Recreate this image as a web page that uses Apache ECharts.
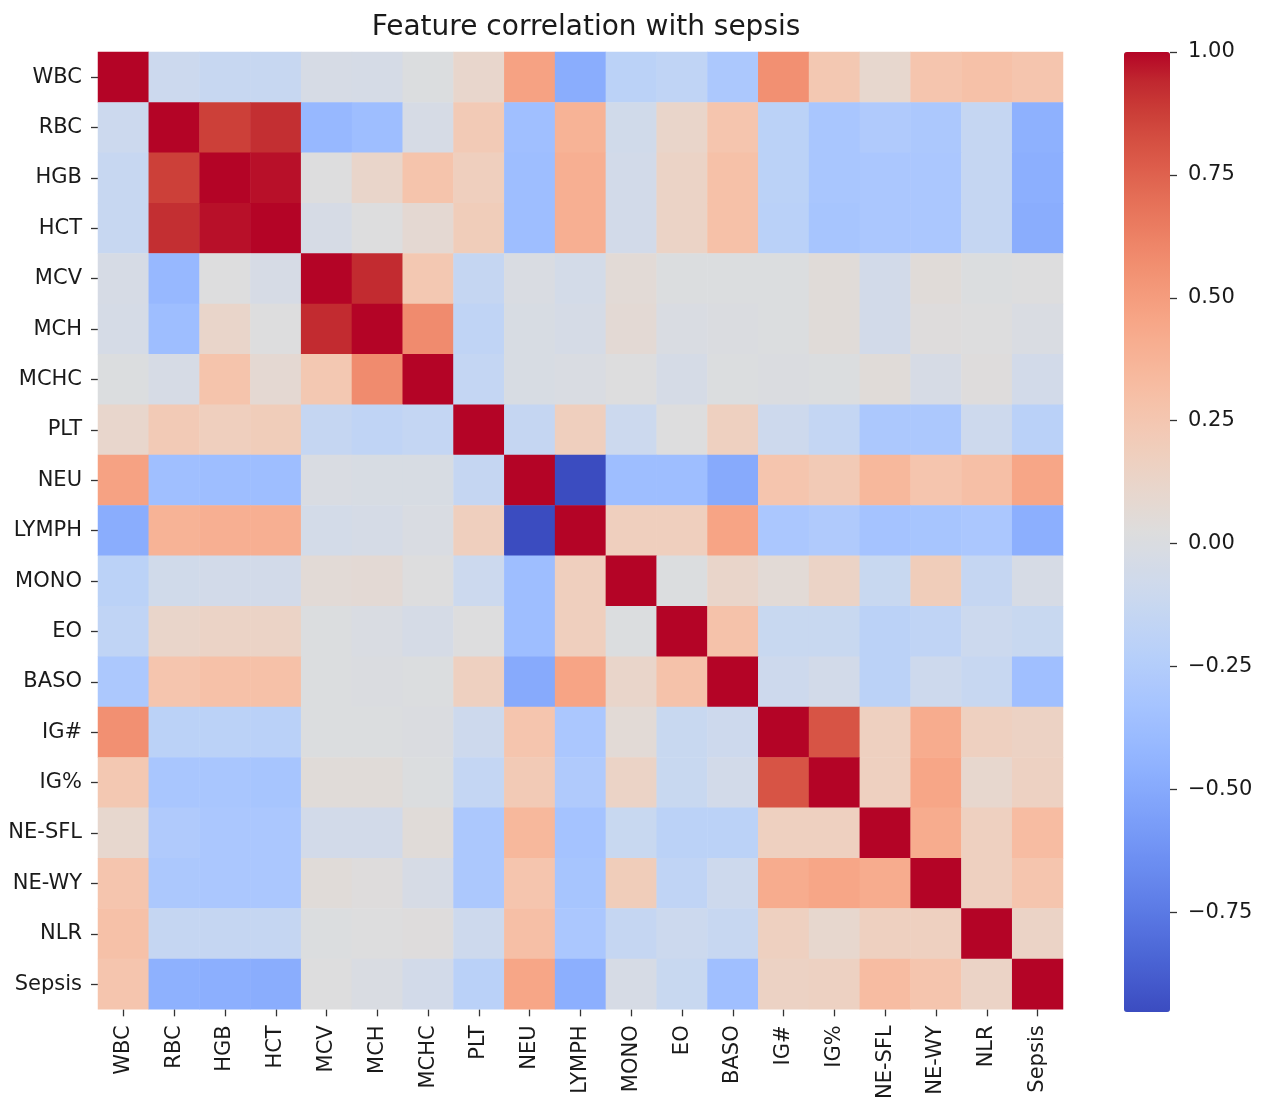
<!DOCTYPE html>
<html>
<head>
<meta charset="utf-8">
<script src="https://cdn.jsdelivr.net/npm/echarts@6/dist/echarts.min.js"></script>
<style>
  html, body { margin: 0; padding: 0; background: #fff; }
  #chart { width: 1261px; height: 1102px; }
</style>
</head>
<body>
<div id="chart"></div>
<script>
// Feature labels (rows top-to-bottom, columns left-to-right)
const features = ['WBC','RBC','HGB','HCT','MCV','MCH','MCHC','PLT','NEU','LYMPH','MONO','EO','BASO','IG#','IG%','NE-SFL','NE-WY','NLR','Sepsis'];

// Correlation rows
const rowWBC    = [ 1.00,-0.10,-0.13,-0.13,-0.03,-0.04, 0.01, 0.11, 0.47,-0.48,-0.20,-0.17,-0.29, 0.56, 0.24, 0.10, 0.26, 0.29, 0.26];
const rowRBC    = [-0.10, 1.00, 0.87, 0.92,-0.41,-0.37,-0.03, 0.22,-0.36, 0.38,-0.07, 0.12, 0.26,-0.20,-0.31,-0.27,-0.29,-0.14,-0.46];
const rowHGB    = [-0.13, 0.87, 1.00, 0.98, 0.02, 0.12, 0.27, 0.18,-0.37, 0.40,-0.06, 0.14, 0.29,-0.20,-0.31,-0.30,-0.30,-0.14,-0.47];
const rowHCT    = [-0.13, 0.92, 0.98, 1.00,-0.03, 0.02, 0.08, 0.20,-0.37, 0.40,-0.06, 0.14, 0.29,-0.21,-0.32,-0.30,-0.30,-0.14,-0.48];
const rowMCV    = [-0.03,-0.41, 0.02,-0.03, 1.00, 0.93, 0.24,-0.14,-0.01,-0.05, 0.06, 0.01, 0.01, 0.01, 0.05,-0.06, 0.05, 0.01, 0.02];
const rowMCH    = [-0.04,-0.37, 0.12, 0.02, 0.93, 1.00, 0.58,-0.17,-0.02,-0.04, 0.07,-0.01, 0.00, 0.01, 0.05,-0.06, 0.03, 0.02,-0.01];
const rowMCHC   = [ 0.01,-0.03, 0.27, 0.08, 0.24, 0.58, 1.00,-0.15,-0.02,-0.01, 0.02,-0.04, 0.01, 0.00, 0.01, 0.05,-0.03, 0.03,-0.06];
const rowPLT    = [ 0.11, 0.22, 0.18, 0.20,-0.14,-0.17,-0.15, 1.00,-0.14, 0.18,-0.10, 0.02, 0.17,-0.09,-0.15,-0.29,-0.29,-0.09,-0.21];
const rowNEU    = [ 0.47,-0.36,-0.37,-0.37,-0.01,-0.02,-0.02,-0.14, 1.00,-0.953,-0.37,-0.37,-0.50, 0.26, 0.22, 0.35, 0.26, 0.30, 0.45];
const rowLYMPH  = [-0.48, 0.38, 0.40, 0.40,-0.05,-0.04,-0.01, 0.18,-0.953, 1.00, 0.18, 0.18, 0.46,-0.30,-0.27,-0.33,-0.32,-0.30,-0.47];
const rowMONO   = [-0.20,-0.07,-0.06,-0.06, 0.06, 0.07, 0.02,-0.10,-0.37, 0.18, 1.00, 0.01, 0.12, 0.06, 0.14,-0.12, 0.20,-0.14,-0.03];
const rowEO     = [-0.17, 0.12, 0.14, 0.14, 0.01,-0.01,-0.04, 0.02,-0.37, 0.18, 0.01, 1.00, 0.28,-0.12,-0.12,-0.20,-0.17,-0.10,-0.12];
const rowBASO   = [-0.29, 0.26, 0.29, 0.29, 0.01, 0.00, 0.01, 0.17,-0.50, 0.46, 0.12, 0.28, 1.00,-0.09,-0.06,-0.20,-0.09,-0.13,-0.36];
const rowIGn    = [ 0.56,-0.20,-0.20,-0.21, 0.01, 0.01, 0.00,-0.09, 0.26,-0.30, 0.06,-0.12,-0.09, 1.00, 0.80, 0.17, 0.42, 0.17, 0.15];
const rowIGp    = [ 0.24,-0.31,-0.31,-0.32, 0.05, 0.05, 0.01,-0.15, 0.22,-0.27, 0.14,-0.12,-0.06, 0.80, 1.00, 0.17, 0.45, 0.10, 0.16];
const rowNESFL  = [ 0.10,-0.27,-0.30,-0.30,-0.06,-0.06, 0.05,-0.29, 0.35,-0.33,-0.12,-0.20,-0.20, 0.17, 0.17, 1.00, 0.42, 0.17, 0.32];
const rowNEWY   = [ 0.26,-0.29,-0.30,-0.30, 0.05, 0.03,-0.03,-0.29, 0.26,-0.32, 0.20,-0.17,-0.09, 0.42, 0.45, 0.42, 1.00, 0.17, 0.26];
const rowNLR    = [ 0.29,-0.14,-0.14,-0.14, 0.01, 0.02, 0.03,-0.09, 0.30,-0.30,-0.14,-0.10,-0.13, 0.17, 0.10, 0.17, 0.17, 1.00, 0.14];
const rowSepsis = [ 0.26,-0.46,-0.47,-0.48, 0.02,-0.01,-0.06,-0.21, 0.45,-0.47,-0.03,-0.12,-0.36, 0.15, 0.16, 0.32, 0.26, 0.14, 1.00];

// Colorbar tick values
const colorbarTicks = [-0.75, -0.5, -0.25, 0, 0.25, 0.5, 0.75, 1.0];

const rows = [rowWBC,rowRBC,rowHGB,rowHCT,rowMCV,rowMCH,rowMCHC,rowPLT,rowNEU,rowLYMPH,rowMONO,rowEO,rowBASO,rowIGn,rowIGp,rowNESFL,rowNEWY,rowNLR,rowSepsis];

// coolwarm colormap stops
const coolwarm = [
  [59,76,192],[68,90,204],[77,104,215],[87,117,225],[98,130,234],[108,142,241],[119,154,247],[130,165,251],
  [141,176,254],[152,185,255],[163,194,255],[174,201,253],[184,208,249],[194,213,244],[204,217,238],[213,219,230],
  [221,221,221],[229,216,209],[236,211,197],[241,204,185],[245,196,173],[247,187,160],[247,177,148],[247,166,135],
  [244,154,123],[241,141,111],[236,127,99],[229,112,88],[222,96,77],[213,80,66],[203,62,56],[192,40,47],[180,4,38]
].map(c => 'rgb(' + c.join(',') + ')');

const data = [];
let vmin = Infinity, vmax = -Infinity;
rows.forEach((r, i) => r.forEach((v, j) => {
  data.push([j, i, v]);
  vmin = Math.min(vmin, v); vmax = Math.max(vmax, v);
}));

const fontFam = 'DejaVu Sans';
const txtColor = '#1a1a1a';
const tickColor = '#333333';
const fmt = v => (v < 0 ? '\u2212' : '') + Math.abs(v).toFixed(2);
const whiteLine = { show: true, onZero: false, lineStyle: { color: '#ffffff', width: 1, opacity: 0 } };
const tickStyle = { show: true, inside: false, length: 7, interval: 0, lineStyle: { color: tickColor, width: 1.3, opacity: 1 } };

const chart = echarts.init(document.getElementById('chart'), null, { renderer: 'canvas' });
chart.setOption({
  animation: false,
  backgroundColor: '#fff',
  title: {
    text: 'Feature correlation with sepsis',
    left: 581, top: 9, textAlign: 'center',
    textStyle: { fontFamily: fontFam, fontSize: 28, fontWeight: 'normal', color: txtColor }
  },
  grid: [
    { left: 98, top: 52, width: 965, height: 960, containLabel: false },
    { left: 1124, top: 52, width: 46, height: 960, containLabel: false }
  ],
  xAxis: [
    {
      type: 'category', data: features, gridIndex: 0, position: 'bottom',
      axisLine: whiteLine,
      axisTick: Object.assign({ alignWithLabel: true }, tickStyle),
      axisLabel: { rotate: 90, margin: 16, fontFamily: fontFam, fontSize: 21, color: txtColor, interval: 0 },
      splitLine: { show: false }
    },
    { type: 'value', gridIndex: 1, show: false, min: 0, max: 1 }
  ],
  yAxis: [
    {
      type: 'category', data: features, gridIndex: 0, inverse: true, position: 'left',
      axisLine: whiteLine,
      axisTick: Object.assign({ alignWithLabel: true }, tickStyle),
      axisLabel: { margin: 16, fontFamily: fontFam, fontSize: 21, color: txtColor, interval: 0 },
      splitLine: { show: false }
    },
    {
      type: 'value', gridIndex: 1, position: 'right', min: vmin, max: vmax,
      axisLine: whiteLine,
      axisTick: Object.assign({ customValues: colorbarTicks }, tickStyle),
      axisLabel: { margin: 18, fontFamily: fontFam, fontSize: 21, color: txtColor, customValues: colorbarTicks, formatter: fmt },
      splitLine: { show: false }
    }
  ],
  visualMap: {
    type: 'continuous',
    seriesIndex: 0,
    min: vmin, max: vmax,
    calculable: false,
    orient: 'vertical',
    left: 1124, top: 52,
    itemWidth: 46, itemHeight: 960,
    padding: 0,
    text: ['', ''],
    showLabel: false,
    inRange: { color: coolwarm }
  },
  series: [
    {
      type: 'heatmap',
      xAxisIndex: 0, yAxisIndex: 0,
      data: data,
      itemStyle: { borderWidth: 0 },
      emphasis: { disabled: true },
      progressive: 0
    },
    {
      type: 'scatter', xAxisIndex: 1, yAxisIndex: 1, data: [], silent: true
    }
  ]
});
</script>
</body>
</html>
